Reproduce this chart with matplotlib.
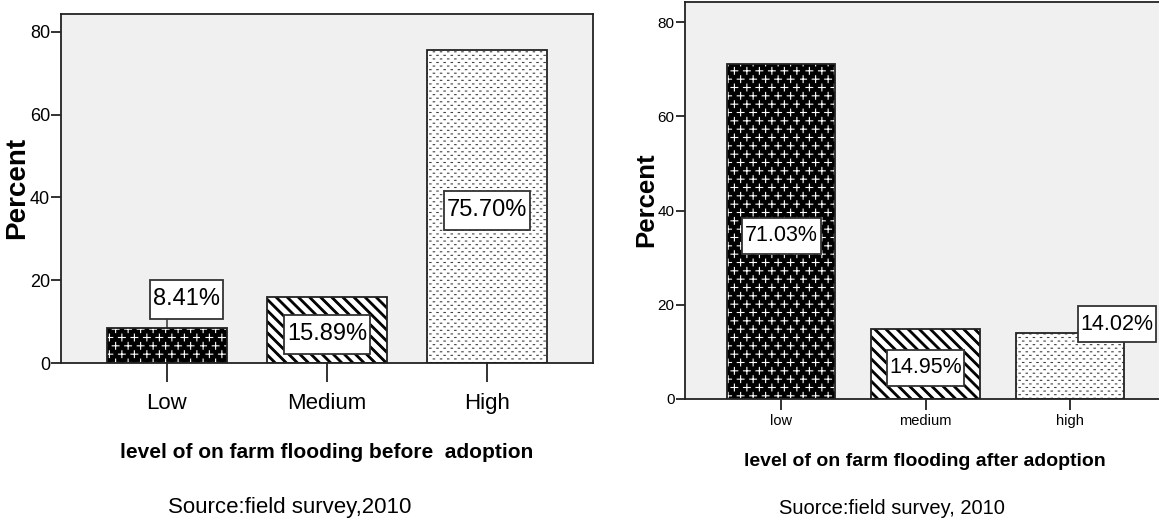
import matplotlib
matplotlib.use("Agg")
import matplotlib.pyplot as plt
import matplotlib.hatch as mhatch
from matplotlib.path import Path
import numpy as np

# ---- data -------------------------------------------------------------
before_levels = ["Low", "Medium", "High"]
before_pct = [8.41, 15.89, 75.70]
after_levels = ["low", "medium", "high"]
after_pct = [71.03, 14.95, 14.02]
y_ticks = [0, 20, 40, 60, 80]

# ---- custom fill patterns (one hatch tile = 1 inch) -------------------
class PlusHatch(mhatch.HatchPatternBase):
    """'*' -> staggered rows of small plus signs."""
    def __init__(self, hatch, density):
        n = hatch.count("*")
        self.cols, self.rows, self.arm = 8 * n, 12 * n, 0.034
        self.num_vertices = self.cols * self.rows * 4 if n else 0

    def set_vertices_and_codes(self, vertices, codes):
        a = self.arm
        pts = []
        for r in range(self.rows):
            y = (r + 0.5) / self.rows
            shift = 0.5 * (r % 2)
            for c in range(self.cols):
                x = (c + 0.25 + shift) / self.cols
                pts += [(x - a, y), (x + a, y), (x, y - a), (x, y + a)]
        vertices[:] = pts
        codes[0::2] = Path.MOVETO
        codes[1::2] = Path.LINETO


class DashHatch(mhatch.HatchPatternBase):
    """'.' -> staggered rows of tiny dashes."""
    def __init__(self, hatch, density):
        n = hatch.count(".")
        self.cols, self.rows, self.w = 14 * n, 28 * n, 0.007
        self.num_vertices = self.cols * self.rows * 2 if n else 0

    def set_vertices_and_codes(self, vertices, codes):
        w = self.w
        pts = []
        for r in range(self.rows):
            y = (r + 0.5) / self.rows
            shift = 0.5 * (r % 2)
            for c in range(self.cols):
                x = (c + 0.25 + shift) / self.cols
                pts += [(x - w, y), (x + w, y)]
        vertices[:] = pts
        codes[0::2] = Path.MOVETO
        codes[1::2] = Path.LINETO


class StripeHatch(mhatch.HatchPatternBase):
    """'\\' -> thick stripes running from top-left to bottom-right."""
    def __init__(self, hatch, density):
        n = hatch.count("\\")
        self.n, self.w = 9 * n, 0.024
        self.count = self.n * 2 + 3 if n else 0
        self.num_vertices = self.count * 5

    def set_vertices_and_codes(self, vertices, codes):
        w = self.w
        pts = []
        for k in range(-2, self.count - 2):
            c = k / self.n
            pts += [(c - 2, 2), (c + 2, -2), (c + w + 2, -2),
                    (c + w - 2, 2), (c - 2, 2)]
        vertices[:] = pts
        codes[:] = np.tile([Path.MOVETO, Path.LINETO, Path.LINETO,
                            Path.LINETO, Path.CLOSEPOLY], self.count)


mhatch._hatch_types = [mhatch.HorizontalHatch, mhatch.VerticalHatch,
                       mhatch.NorthEastHatch, StripeHatch,
                       mhatch.SmallCircles, mhatch.LargeCircles,
                       DashHatch, PlusHatch]

plt.rcParams["hatch.linewidth"] = 0.8

FONT = ["Liberation Sans", "DejaVu Sans"]

bar_hatch = ["*", "\\", "."]
bar_face = ["black", "white", "white"]
bar_hatch_col = ["white", "black", "#404040"]
INK = "#222222"
PANEL = "#f0f0f0"


def label_box(x0, y0, width, height, mutation_size):
    """Plain rectangle, tight at the sides and roomy above and below."""
    padx, pady = 0.12 * mutation_size, 0.36 * mutation_size
    xa, ya = x0 - padx, y0 - pady
    xb, yb = x0 + width + padx, y0 + height + pady
    return Path([(xa, ya), (xb, ya), (xb, yb), (xa, yb), (xa, ya)],
                closed=True)


box = dict(boxstyle=label_box, fc="white", ec="#333333", lw=1.3)

W, H = 1159, 523
fig = plt.figure(figsize=(W / 100, H / 100), dpi=100)


def px(x, y):
    return x / W, 1 - y / H


def panel(ax, levels, pct, xlim, xtick_len, ytick_len, xt_size, yt_size,
          xt_pad):
    x = np.arange(len(levels))
    ax.set_facecolor(PANEL)
    bars = ax.bar(x, pct, width=0.75, color=bar_face, edgecolor=bar_hatch_col,
                  linewidth=0, zorder=2)
    for b, h in zip(bars, bar_hatch):
        b.set_hatch(h)
    ax.bar(x, pct, width=0.75, fill=False, edgecolor=INK, linewidth=1.3,
           zorder=3)
    ax.set_xlim(*xlim)
    ax.set_ylim(0, 84.3)
    ax.set_yticks(y_ticks)
    ax.set_xticks(x)
    ax.set_xticklabels(levels)
    for s in ax.spines.values():
        s.set_color(INK)
        s.set_linewidth(1.3)
    ax.tick_params(axis="x", length=xtick_len, width=1.3, color=INK,
                   pad=xt_pad)
    ax.tick_params(axis="y", length=ytick_len, width=1.3, color=INK, pad=1)
    for t in ax.get_xticklabels():
        t.set_family(FONT)
        t.set_fontsize(xt_size)
    for t in ax.get_yticklabels():
        t.set_family(FONT)
        t.set_fontsize(yt_size)
    return x


# ---- left panel: before adoption --------------------------------------
ax1 = fig.add_axes([61 / W, 1 - 363 / H, (593 - 61) / W, (363 - 14) / H])
x1 = panel(ax1, before_levels, before_pct, (-0.6625, 2.6625), 13.5, 7, 16,
           13, 8)
for xi, v in zip(x1, before_pct):
    lab = f"{v:.2f}%"
    if v < 10:
        # too short for an inside label: box above, joined by a leader line
        ax1.annotate(lab, xy=(xi, v), xytext=(14, 20.7),
                     textcoords="offset points", ha="center", va="center",
                     fontsize=17, family=FONT, bbox=box, zorder=5,
                     arrowprops=dict(arrowstyle="-", color=INK, lw=1.0,
                                     relpos=(0.21, 0.0),
                                     shrinkA=0, shrinkB=0))
    else:
        ax1.annotate(lab, xy=(xi, v / 2), xytext=(0, -3),
                     textcoords="offset points", ha="center", va="center",
                     fontsize=17, family=FONT, bbox=box, zorder=5)

fig.text(*px(17, 188), "Percent", rotation=90, ha="center", va="center",
         fontsize=20, fontweight="bold", family=FONT)
fig.text(*px(327, 452), "level of on farm flooding before  adoption",
         ha="center", va="center", fontsize=15, fontweight="bold", family=FONT)
fig.text(*px(290, 507), "Source:field survey,2010", ha="center", va="center",
         fontsize=16, family=FONT)

# ---- right panel: after adoption --------------------------------------
ax2 = fig.add_axes([685 / W, 1 - 399 / H, (1166 - 685) / W, (399 - 2) / H])
x2 = panel(ax2, after_levels, after_pct, (-0.67, 2.67), 8, 6.5, 10.5, 11, 3)
for xi, v in zip(x2, after_pct):
    lab = f"{v:.2f}%"
    if xi == 2:
        ax2.annotate(lab, xy=(xi, v), xytext=(34, 6.4),
                     textcoords="offset points", ha="center", va="center",
                     fontsize=15.5, family=FONT, bbox=box, zorder=5)
    else:
        ax2.annotate(lab, xy=(xi, v / 2), xytext=(0, -3),
                     textcoords="offset points", ha="center", va="center",
                     fontsize=15.5, family=FONT, bbox=box, zorder=5)

fig.text(*px(646, 200), "Percent", rotation=90, ha="center", va="center",
         fontsize=18.5, fontweight="bold", family=FONT)
fig.text(*px(925, 461), "level of on farm flooding after adoption",
         ha="center", va="center", fontsize=14, fontweight="bold", family=FONT)
fig.text(*px(892, 508), "Suorce:field survey, 2010", ha="center", va="center",
         fontsize=14.5, family=FONT)

fig.savefig("out.png", dpi=100)
